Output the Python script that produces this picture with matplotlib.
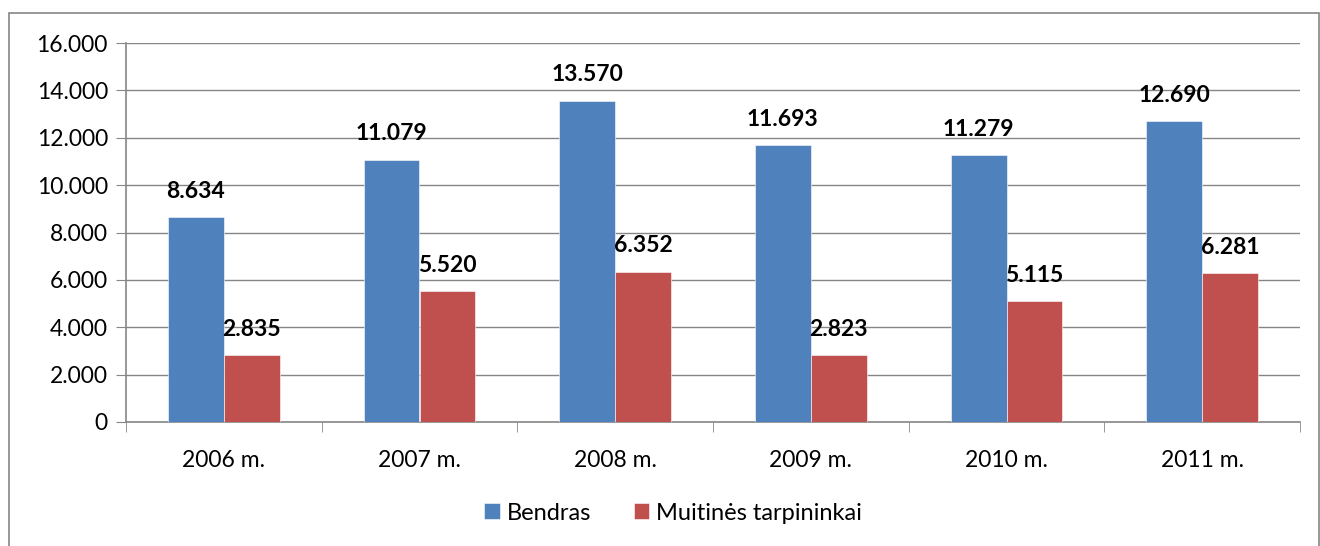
import matplotlib
matplotlib.use('Agg')
from matplotlib import pyplot as plt
from matplotlib.patches import Rectangle
import numpy as np

years = ['2006 m.', '2007 m.', '2008 m.', '2009 m.', '2010 m.', '2011 m.']
bendras = [8634, 11079, 13570, 11693, 11279, 12690]
muitines = [2835, 5520, 6352, 2823, 5115, 6281]
series_names = ['Bendras', 'Muitinės tarpininkai']
colors = ['#4F81BD', '#C0504D']
yticks = [0, 2000, 4000, 6000, 8000, 10000, 12000, 14000, 16000]


def fmt(v):
    return '{:,}'.format(v).replace(',', '.')


plt.rcParams['font.family'] = ['Lato', 'DejaVu Sans']

fig = plt.figure(figsize=(13.2, 5.46), dpi=100)
ax = fig.add_axes([126 / 1320, 1 - 422 / 546, (1300 - 126) / 1320, (422 - 43) / 546])

# outer chart frame (bottom edge runs off the image)
fig.patches.append(Rectangle((9 / 1320, -0.02), 1310 / 1320, 1.02 - 13 / 546, transform=fig.transFigure,
                             fill=False, edgecolor='#868686', linewidth=1.2))

x = np.arange(len(years))
w = 0.286
for i, (vals, col, name) in enumerate(zip([bendras, muitines], colors, series_names)):
    pos = x + (i - 0.5) * w
    ax.bar(pos, vals, width=w, color=col, label=name, zorder=3, edgecolor='white', linewidth=0.4)
    for px, v in zip(pos, vals):
        ax.annotate(fmt(v), (px, v), xytext=(0, 11), textcoords='offset points',
                    ha='center', va='bottom', fontsize=16.5, fontweight='bold')

ax.set_xlim(-0.5, len(years) - 0.5)
ax.set_ylim(0, 16000)
ax.set_yticks(yticks)
ax.set_yticklabels([fmt(v) for v in yticks], fontsize=16.5)
ax.set_xticks(x)
ax.set_xticklabels(years, fontsize=16.5)
ax.set_xticks(np.arange(-0.5, len(years)), minor=True)
ax.tick_params(axis='x', which='major', length=0, pad=20)
ax.tick_params(axis='x', which='minor', length=7, color='#868686', direction='out')
ax.tick_params(axis='y', length=7, color='#868686', direction='out', pad=6)
ax.yaxis.grid(True, color='#868686', linewidth=1, zorder=0)
for s in ['top', 'right']:
    ax.spines[s].set_visible(False)
for s in ['left', 'bottom']:
    ax.spines[s].set_color('#868686')
    ax.spines[s].set_linewidth(1.2)

fig.legend(loc='center', bbox_to_anchor=(0.51, 1 - 513 / 546), ncol=2, frameon=False, fontsize=17,
           handlelength=0.65, handleheight=0.65, handletextpad=0.3, columnspacing=1.8)

fig.savefig('out.png', dpi=100)
